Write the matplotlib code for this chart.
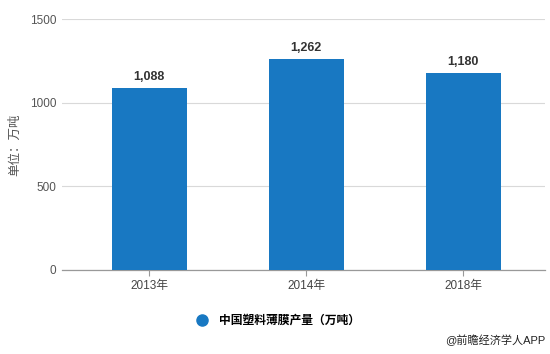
import matplotlib
matplotlib.use("Agg")
import matplotlib.pyplot as plt
from matplotlib.lines import Line2D

plt.rcParams['font.family'] = ['Liberation Sans', 'Noto Sans CJK SC', 'DejaVu Sans']

categories = ["2013年", "2014年", "2018年"]
values = [1088, 1262, 1180]
labels = ["1,088", "1,262", "1,180"]
yticks = [0, 500, 1000, 1500]
series_name = "中国塑料薄膜产量（万吨）"
ylabel = "单位：万吨"
credit = "@前瞻经济学人APP"

bar_color = "#1878c2"

fig = plt.figure(figsize=(5.5, 3.54), dpi=100)
ax = fig.add_axes([62/550, 84/354, (545-62)/550, (335-84)/354])

x = list(range(len(categories)))
ax.bar(x, values, width=0.48, color=bar_color, zorder=3)
for xi, v, lab in zip(x, values, labels):
    ax.annotate(lab, (xi, v), xytext=(0, 3.5), textcoords="offset points",
                ha="center", va="bottom", fontsize=9, fontweight="bold", color="#333333")

ax.set_xlim(-0.556, 2.52)
ax.set_ylim(0, 1500)
ax.set_yticks(yticks)
ax.set_yticklabels([str(t) for t in yticks])
ax.set_xticks(x)
ax.set_xticklabels(categories)
ax.grid(axis="y", color="#d9d9d9", linewidth=0.8, zorder=0)
for s in ["top", "right", "left"]:
    ax.spines[s].set_visible(False)
ax.spines["bottom"].set_color("#999999")
ax.spines["bottom"].set_linewidth(0.9)
ax.tick_params(axis="y", length=0, pad=4, labelsize=8.5, labelcolor="#555555")
ax.tick_params(axis="x", length=4, color="#999999", pad=3, labelsize=8.5, labelcolor="#444444")
ax.set_ylabel(ylabel, fontsize=9, color="#555555")
ax.yaxis.set_label_coords(-0.084, 0.5)

handle = Line2D([], [], marker="o", linestyle="none", markersize=8,
                markerfacecolor=bar_color, markeredgecolor=bar_color)
fig.legend([handle], [series_name], loc="center", bbox_to_anchor=(275/550, 1 - 321/354),
           frameon=False, handletextpad=0.4, prop={'weight': 'bold', 'size': 8.5})
fig.text(545/550, 1 - 340/354, credit, ha="right", va="center", fontsize=8, color="#222222")

fig.savefig("out.png", dpi=100)
